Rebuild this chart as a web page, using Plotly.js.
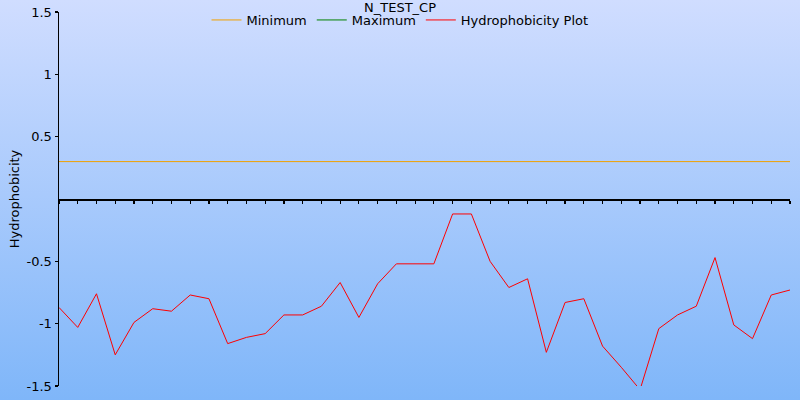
<!DOCTYPE html>
<html>
<head>
<meta charset="utf-8">
<script src="https://cdn.plot.ly/plotly-3.0.1.min.js"></script>
<style>
  html, body { margin: 0; padding: 0; }
  #chart { width: 800px; height: 400px; background: linear-gradient(to bottom, #d0ddff 0%, #7fb6f9 100%); }
</style>
</head>
<body>
<div id="chart"></div>
<script>
// Residue positions (window index)
const positions = [1,2,3,4,5,6,7,8,9,10,11,12,13,14,15,16,17,18,19,20,
                   21,22,23,24,25,26,27,28,29,30,31,32,33,34,35,36,37,38,39,40];
// Hydrophobicity values
const hydrophobicity = [-0.87, -1.03, -0.76, -1.25, -0.99, -0.88, -0.90, -0.77, -0.80, -1.16,
                        -1.11, -1.08, -0.93, -0.93, -0.86, -0.67, -0.95, -0.68, -0.52, -0.52,
                        -0.52, -0.12, -0.12, -0.50, -0.71, -0.64, -1.23, -0.83, -0.80, -1.18,
                        -1.35, -1.53, -1.04, -0.93, -0.86, -0.47, -1.01, -1.12, -0.77, -0.73];
const minimumLevel = 0.3;
const minimumX = [1, 40];
const minimumY = [minimumLevel, minimumLevel];
const maximumX = [1, 40];
const maximumY = [null, null];
const yTickVals = [1.5, 1, 0.5, -0.5, -1, -1.5];
const yTickText = ['1.5', '1', '0.5', '-0.5', '-1', '-1.5'];

const font = 'DejaVu Sans, Verdana, sans-serif';

const traces = [
  { x: minimumX, y: minimumY, mode: 'lines', name: 'Minimum',
    line: { color: '#f0a000', width: 1 } },
  { x: maximumX, y: maximumY, mode: 'lines', name: 'Maximum',
    line: { color: '#008000', width: 1 } },
  { x: positions, y: hydrophobicity, mode: 'lines', name: 'Hydrophobicity Plot',
    line: { color: '#ff0000', width: 1 } }
];

const layout = {
  width: 800, height: 400,
  paper_bgcolor: 'rgba(0,0,0,0)',
  plot_bgcolor: 'rgba(0,0,0,0)',
  margin: { l: 59, r: 10, t: 12, b: 14, autoexpand: false },
  font: { family: font, size: 13, color: '#000' },
  title: { text: 'N_TEST_CP', x: 0.5, xref: 'container', xanchor: 'center',
           y: 0.982, yref: 'container', yanchor: 'middle',
           font: { family: font, size: 13, color: '#000' } },
  showlegend: true,
  legend: { orientation: 'h', x: 0.5, xref: 'container', xanchor: 'center',
            y: 0.950, yref: 'container', yanchor: 'middle',
            bgcolor: 'rgba(0,0,0,0)', font: { family: font, size: 13, color: '#000' } },
  xaxis: {
    range: [1, 40], anchor: 'free', position: 0.5,
    showline: true, linecolor: '#000', linewidth: 1.5,
    ticks: 'outside', ticklen: 3, tickwidth: 1.2, tickcolor: '#000',
    tickmode: 'linear', tick0: 1, dtick: 1,
    showticklabels: false, showgrid: false, zeroline: false
  },
  yaxis: {
    range: [-1.5, 1.5],
    showline: true, linecolor: '#000', linewidth: 1.5,
    ticks: 'outside', ticklen: 3, tickwidth: 1.2, tickcolor: '#000',
    tickmode: 'array', tickvals: yTickVals, ticktext: yTickText,
    tickfont: { family: font, size: 13, color: '#000' },
    showgrid: false, zeroline: false,
    title: { text: 'Hydrophobicity', standoff: 4, font: { family: font, size: 13, color: '#000' } }
  }
};

Plotly.newPlot('chart', traces, layout, { displayModeBar: false, staticPlot: true });
</script>
</body>
</html>
